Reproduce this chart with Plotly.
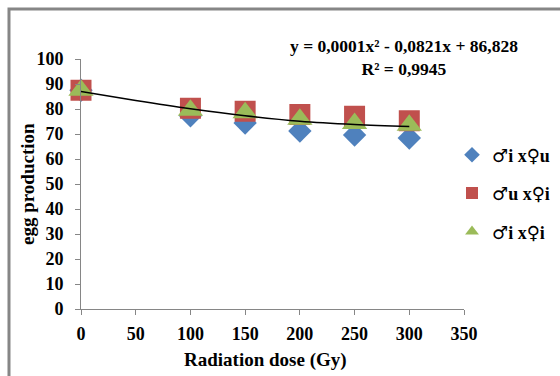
import numpy as np
import plotly.graph_objects as go

dose = [0, 100, 150, 200, 250, 300]
names = ["♂i x♀u", "♂u x♀i", "♂i x♀i"]
s_iu = [87.5, 77.3, 74.4, 71.2, 69.6, 68.4]
s_ui = [87.5, 80.3, 79.1, 77.8, 77.1, 75.3]
s_ii = [87.5, 79.5, 78.5, 75.9, 74.2, 73.5]
trend_x = [0, 50, 100, 150, 200, 250, 300]
trend_y = [87.0, 83.4, 80.1, 77.3, 75.1, 73.8, 73.0]
x_ticks = [0, 50, 100, 150, 200, 250, 300, 350]
y_ticks = [0, 10, 20, 30, 40, 50, 60, 70, 80, 90, 100]

FONT = "Liberation Serif, Times New Roman, DejaVu Serif, serif"
LFONT = "Liberation Serif, DejaVu Sans, serif"
colors = ["#4F81BD", "#C0504D", "#9BBB59"]
symbols = ["diamond", "square", "triangle-up"]
sizes = [18, 21, 22]


def legend_label(s):
    out = ""
    for ch in s:
        if ch in "♂♀":
            out += ("<span style='font-size:18px;font-weight:normal;"
                    "font-family:DejaVu Sans'>" + ch + "</span>")
        else:
            out += ch
    return out


fig = go.Figure()
for i, ys in enumerate([s_iu, s_ui, s_ii]):
    fig.add_trace(go.Scatter(
        x=dose, y=ys, mode="markers", name=legend_label(names[i]),
        legendgroup=f"g{i}",
        marker=dict(symbol=symbols[i], size=sizes[i], color=colors[i],
                    line=dict(width=0)),
        cliponaxis=False,
    ))
fig.add_trace(go.Scatter(
    x=trend_x, y=trend_y, mode="lines", showlegend=False,
    line=dict(color="black", width=1.5, shape="spline"),
))

fig.update_layout(
    width=560, height=376,
    margin=dict(l=81, r=96, t=59, b=67, autoexpand=False),
    paper_bgcolor="white", plot_bgcolor="white",
    font=dict(family=FONT, size=18, color="black"),
    showlegend=True,
    legend=dict(x=(452 - 81) / 383, xanchor="left", y=0.69, yanchor="top",
                font=dict(family=LFONT, size=18, color="black", weight="bold"),
                tracegroupgap=12, itemsizing="constant",
                bgcolor="rgba(0,0,0,0)"),
    xaxis=dict(range=[0, 350], tickvals=x_ticks, showgrid=False, zeroline=False,
               showline=True, linecolor="#868686", linewidth=1,
               ticks="outside", ticklen=5, tickcolor="#868686",
               tickfont=dict(family=FONT, size=18, weight="bold"),
               ticklabelstandoff=3),
    yaxis=dict(range=[0, 100], tickvals=y_ticks, showgrid=False, zeroline=False,
               showline=True, linecolor="#868686", linewidth=1,
               ticks="outside", ticklen=5, tickcolor="#868686",
               tickfont=dict(family=FONT, size=18, weight="bold"),
               ticklabelstandoff=8),
    shapes=[dict(type="rect", xref="paper", yref="paper",
                 x0=-0.188, x1=1.5, y0=-0.5, y1=1.2,
                 line=dict(color="#868686", width=3))],
    annotations=[
        dict(text="egg production", xref="paper", yref="paper",
             x=(27 - 81) / 383, y=0.5, xanchor="center", yanchor="middle",
             textangle=-90, showarrow=False,
             font=dict(family=FONT, size=19, weight="bold")),
        dict(text="Radiation dose (Gy)", xref="paper", yref="paper",
             x=(265 - 81) / 383, y=-(360 - 309) / 250,
             xanchor="center", yanchor="middle", showarrow=False,
             font=dict(family=FONT, size=19, weight="bold")),
        dict(text="y = 0,0001x² - 0,0821x + 86,828<br>R² = 0,9945",
             xref="paper", yref="paper", x=(404 - 81) / 383,
             y=1 + (59 - 57) / 250, xanchor="center", yanchor="middle",
             showarrow=False, align="center",
             font=dict(family=FONT, size=17.5, weight="bold")),
    ],
)
fig.write_html("out.html")
